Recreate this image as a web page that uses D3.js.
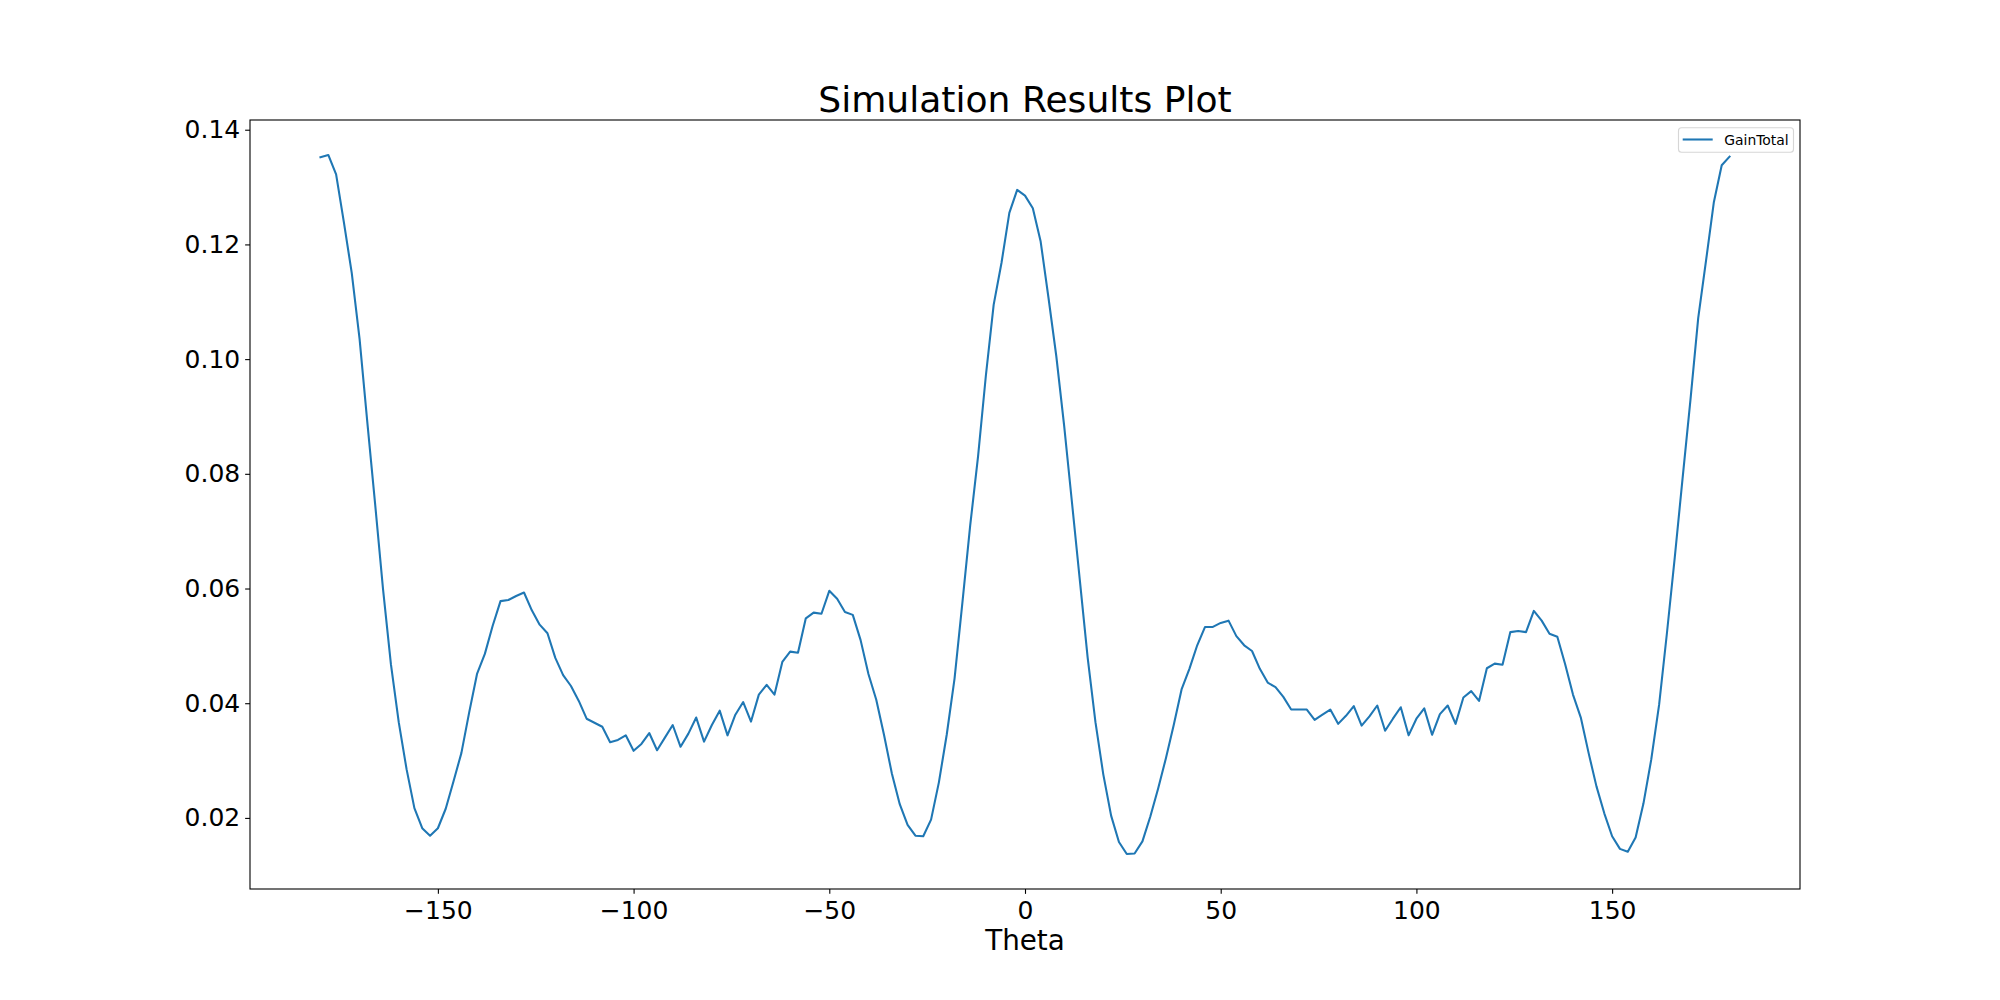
<!DOCTYPE html>
<html>
<head>
<meta charset="utf-8">
<script src="https://cdn.jsdelivr.net/npm/d3@7"></script>
<style>
  body { margin: 0; background: #fff; }
  text { font-family: "DejaVu Sans", sans-serif; fill: #000; }
</style>
</head>
<body>
<svg id="chart"></svg>
<script>
// theta (deg), one sample every 2 degrees
const theta = [
  -180, -178, -176, -174, -172, -170, -168, -166, -164, -162,
  -160, -158, -156, -154, -152, -150, -148, -146, -144, -142,
  -140, -138, -136, -134, -132, -130, -128, -126, -124, -122,
  -120, -118, -116, -114, -112, -110, -108, -106, -104, -102,
  -100, -98, -96, -94, -92, -90, -88, -86, -84, -82,
  -80, -78, -76, -74, -72, -70, -68, -66, -64, -62,
  -60, -58, -56, -54, -52, -50, -48, -46, -44, -42,
  -40, -38, -36, -34, -32, -30, -28, -26, -24, -22,
  -20, -18, -16, -14, -12, -10, -8, -6, -4, -2,
  0, 2, 4, 6, 8, 10, 12, 14, 16, 18,
  20, 22, 24, 26, 28, 30, 32, 34, 36, 38,
  40, 42, 44, 46, 48, 50, 52, 54, 56, 58,
  60, 62, 64, 66, 68, 70, 72, 74, 76, 78,
  80, 82, 84, 86, 88, 90, 92, 94, 96, 98,
  100, 102, 104, 106, 108, 110, 112, 114, 116, 118,
  120, 122, 124, 126, 128, 130, 132, 134, 136, 138,
  140, 142, 144, 146, 148, 150, 152, 154, 156, 158,
  160, 162, 164, 166, 168, 170, 172, 174, 176, 178,
  180
];

const gainTotal = [
  0.1352, 0.1356, 0.1322, 0.1238, 0.1150, 0.1035, 0.0888, 0.0745, 0.0598, 0.0468,
  0.0367, 0.0285, 0.0217, 0.0182, 0.0169, 0.0182, 0.0216, 0.0264, 0.0313, 0.0384,
  0.0451, 0.0486, 0.0535, 0.0578, 0.0580, 0.0587, 0.0593, 0.0562, 0.0537, 0.0522,
  0.0479, 0.0449, 0.0430, 0.0404, 0.0373, 0.0366, 0.0359, 0.0332, 0.0336, 0.0344,
  0.0317, 0.0329, 0.0348, 0.0318, 0.0340, 0.0362, 0.0324, 0.0347, 0.0375, 0.0333,
  0.0362, 0.0387, 0.0344, 0.0380, 0.0402, 0.0368, 0.0415, 0.0432, 0.0415, 0.0472,
  0.0490, 0.0488, 0.0548, 0.0558, 0.0556, 0.0596, 0.0582, 0.0559, 0.0554, 0.0510,
  0.0451, 0.0406, 0.0344, 0.0277, 0.0224, 0.0188, 0.0169, 0.0168, 0.0197, 0.0262,
  0.0345, 0.0443, 0.0575, 0.0710, 0.0830, 0.0971, 0.1095, 0.1168, 0.1255, 0.1295,
  0.1285, 0.1263, 0.1205, 0.1107, 0.1005, 0.0884, 0.0750, 0.0615, 0.0480, 0.0367,
  0.0276, 0.0204, 0.0158, 0.0137, 0.0138, 0.0159, 0.0202, 0.0251, 0.0304, 0.0362,
  0.0424, 0.0460, 0.0501, 0.0533, 0.0533, 0.0540, 0.0544, 0.0517, 0.0501, 0.0491,
  0.0460, 0.0436, 0.0428, 0.0411, 0.0389, 0.0389, 0.0389, 0.0371, 0.0380, 0.0389,
  0.0364, 0.0378, 0.0395, 0.0361, 0.0377, 0.0396, 0.0352, 0.0373, 0.0393, 0.0344,
  0.0373, 0.0391, 0.0345, 0.0381, 0.0396, 0.0364, 0.0410, 0.0421, 0.0404, 0.0461,
  0.0469, 0.0467, 0.0524, 0.0526, 0.0524, 0.0561, 0.0544, 0.0521, 0.0516, 0.0468,
  0.0415, 0.0375, 0.0313, 0.0255, 0.0208, 0.0168, 0.0146, 0.0141, 0.0166, 0.0225,
  0.0302, 0.0397, 0.0522, 0.0654, 0.0792, 0.0928, 0.1072, 0.1172, 0.1274, 0.1338,
  0.1353
];

const xTicks = [-150, -100, -50, 0, 50, 100, 150];
const yTicks = [0.02, 0.04, 0.06, 0.08, 0.10, 0.12, 0.14];

let width = 2000;
let height = 1000;
let margin = { top: 120, right: 200, bottom: 111, left: 250 };

const BLUE = '#1f77b4';

let svg = d3.select('#chart')
  .attr('width', width)
  .attr('height', height);

svg.append('rect')
  .attr('width', width)
  .attr('height', height)
  .attr('fill', '#fff');

let data = theta.map((t, i) => ({ t: t, v: gainTotal[i] }));

// matplotlib style 5% margins
let xExt = d3.extent(theta);
let xPad = (xExt[1] - xExt[0]) * 0.05;
let yExt = d3.extent(gainTotal);
let yPad = (yExt[1] - yExt[0]) * 0.05;

let x = d3.scaleLinear()
  .domain([xExt[0] - xPad, xExt[1] + xPad])
  .range([margin.left, width - margin.right]);

let y = d3.scaleLinear()
  .domain([yExt[0] - yPad, yExt[1] + yPad])
  .range([height - margin.bottom, margin.top]);

const tickLen = 4.86;

let xAxis = g => g
  .attr('transform', `translate(0,${height - margin.bottom})`)
  .call(d3.axisBottom(x).tickValues(xTicks).tickSize(tickLen).tickPadding(tickLen))
  .call(g => g.select('.domain').remove())
  .call(g => g.selectAll('.tick line').attr('stroke-width', 1.1))
  .call(g => g.selectAll('.tick text').attr('dy', '0.8em'));

let yAxis = g => g
  .attr('transform', `translate(${margin.left},0)`)
  .call(d3.axisLeft(y).tickValues(yTicks).tickFormat(d3.format('.2f')).tickSize(tickLen).tickPadding(tickLen))
  .call(g => g.select('.domain').remove())
  .call(g => g.selectAll('.tick line').attr('stroke-width', 1.1));

svg.append('g').call(xAxis);
svg.append('g').call(yAxis);

svg.selectAll('.tick text')
  .attr('font-family', '"DejaVu Sans", sans-serif')
  .attr('font-size', 25)
  .attr('fill', '#000');

let line = d3.line()
  .x(d => x(d.t))
  .y(d => y(d.v));

svg.append('path')
  .datum(data)
  .attr('fill', 'none')
  .attr('stroke', BLUE)
  .attr('stroke-width', 2.08)
  .attr('stroke-linejoin', 'round')
  .attr('stroke-linecap', 'square')
  .attr('d', line);

// axes frame
svg.append('rect')
  .attr('x', margin.left)
  .attr('y', margin.top)
  .attr('width', width - margin.left - margin.right)
  .attr('height', height - margin.top - margin.bottom)
  .attr('fill', 'none')
  .attr('stroke', '#000')
  .attr('stroke-width', 1.1);

// title
svg.append('text')
  .attr('x', (margin.left + width - margin.right) / 2)
  .attr('y', 111.7)
  .attr('text-anchor', 'middle')
  .attr('font-size', 36.1)
  .text('Simulation Results Plot');

// x label
svg.append('text')
  .attr('x', (margin.left + width - margin.right) / 2)
  .attr('y', 950)
  .attr('text-anchor', 'middle')
  .attr('font-size', 27.8)
  .text('Theta');

// legend
let legend = svg.append('g');
legend.append('rect')
  .attr('x', 1678.5)
  .attr('y', 127.7)
  .attr('width', 115)
  .attr('height', 24.6)
  .attr('rx', 3)
  .attr('fill', '#fff')
  .attr('fill-opacity', 0.8)
  .attr('stroke', '#cccccc')
  .attr('stroke-opacity', 0.8)
  .attr('stroke-width', 1.1);
legend.append('line')
  .attr('x1', 1682.7)
  .attr('x2', 1712.7)
  .attr('y1', 139.5)
  .attr('y2', 139.5)
  .attr('stroke', BLUE)
  .attr('stroke-width', 2.08);
legend.append('text')
  .attr('x', 1724.3)
  .attr('y', 144.5)
  .attr('font-size', 13.9)
  .text('GainTotal');
</script>
</body>
</html>
